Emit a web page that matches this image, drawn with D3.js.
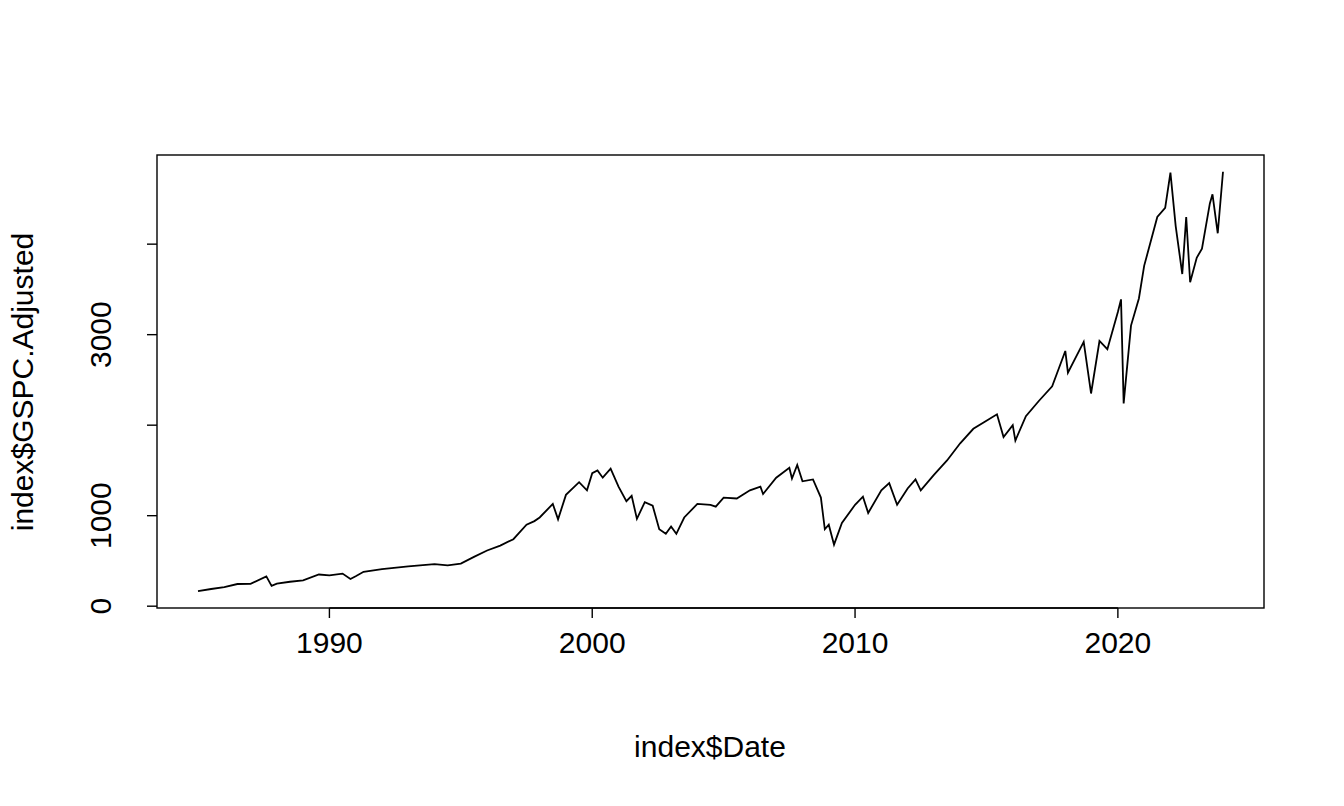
<!DOCTYPE html>
<html><head><meta charset="utf-8">
<script src="https://cdn.jsdelivr.net/npm/d3@7"></script>
<style>body{margin:0;background:#fff}text{font-family:"Liberation Sans",Arial,sans-serif;font-size:30px;fill:#000}</style>
</head><body><div id="chart"></div>
<script>
// year (decimal) and adjusted close
const years = [1985.0,1985.5,1986.0,1986.5,1987.0,1987.6,1987.8,1988.0,1988.5,1989.0,1989.6,1990.0,1990.5,1990.8,1991.0,1991.3,1992.0,1993.0,1994.0,1994.5,1995.0,1995.5,1996.0,1996.5,1997.0,1997.5,1997.8,1998.0,1998.5,1998.7,1999.0,1999.5,1999.8,2000.0,2000.2,2000.4,2000.7,2001.0,2001.3,2001.5,2001.7,2002.0,2002.3,2002.55,2002.8,2003.0,2003.2,2003.5,2004.0,2004.5,2004.7,2005.0,2005.5,2006.0,2006.4,2006.5,2007.0,2007.5,2007.6,2007.8,2008.0,2008.4,2008.7,2008.85,2009.0,2009.2,2009.5,2010.0,2010.3,2010.5,2011.0,2011.3,2011.6,2012.0,2012.3,2012.5,2013.0,2013.5,2014.0,2014.5,2015.0,2015.4,2015.65,2016.0,2016.1,2016.5,2017.0,2017.5,2018.0,2018.1,2018.7,2018.98,2019.3,2019.6,2020.0,2020.12,2020.22,2020.5,2020.8,2021.0,2021.5,2021.8,2022.0,2022.2,2022.45,2022.6,2022.75,2023.0,2023.2,2023.5,2023.6,2023.8,2024.0];
const values = [167,190,211,245,246,330,225,250,270,285,350,340,360,300,330,380,410,440,465,450,470,545,615,670,740,900,940,980,1130,960,1230,1370,1280,1470,1500,1420,1520,1320,1160,1220,965,1150,1110,850,800,880,800,980,1130,1120,1100,1200,1190,1280,1320,1240,1420,1530,1410,1560,1380,1400,1200,850,900,680,920,1120,1210,1030,1280,1360,1120,1300,1400,1280,1450,1610,1800,1960,2050,2120,1870,2000,1830,2100,2270,2430,2820,2580,2920,2350,2930,2840,3250,3390,2240,3100,3400,3760,4300,4400,4790,4200,3670,4300,3580,3850,3950,4450,4550,4120,4800];
const xTicks = [1990, 2000, 2010, 2020];
const yTicks = [0, 1000, 2000, 3000, 4000];
const yLabels = [0, 1000, 3000];

const W = 1344, H = 806;
const L = 157, R = 1264, T = 155, B = 608;
const svg = d3.select("#chart").append("svg").attr("width", W).attr("height", H);

const x = d3.scaleLinear().domain([1983.44, 2025.56]).range([L, R]);
const y = d3.scaleLinear().domain([-20, 4985]).range([B, T]);

svg.append("rect").attr("x", L).attr("y", T).attr("width", R - L).attr("height", B - T)
  .attr("fill", "none").attr("stroke", "#000").attr("stroke-width", 1.4);

const line = d3.line().x((d, i) => x(years[i])).y(d => y(d));
svg.append("path").datum(values).attr("d", line)
  .attr("fill", "none").attr("stroke", "#000").attr("stroke-width", 1.8);

// x axis
const ga = svg.append("g").attr("stroke", "#000").attr("stroke-width", 1.4);
ga.append("line").attr("x1", x(1990)).attr("x2", x(2020)).attr("y1", B).attr("y2", B);
xTicks.forEach(t => {
  ga.append("line").attr("x1", x(t)).attr("x2", x(t)).attr("y1", B).attr("y2", B + 10);
  svg.append("text").attr("x", x(t)).attr("y", 653).attr("text-anchor", "middle").text(t);
});
// y axis
yTicks.forEach(t => {
  ga.append("line").attr("x1", L - 10).attr("x2", L).attr("y1", y(t)).attr("y2", y(t));
});
yLabels.forEach(t => {
  svg.append("text").attr("transform", `translate(111,${y(t)}) rotate(-90)`)
    .attr("text-anchor", "middle").text(t);
});

svg.append("text").attr("x", 710).attr("y", 757).attr("text-anchor", "middle").text("index$Date");
svg.append("text").attr("transform", `translate(33,382) rotate(-90)`)
  .attr("text-anchor", "middle").text("index$GSPC.Adjusted");
</script></body></html>
